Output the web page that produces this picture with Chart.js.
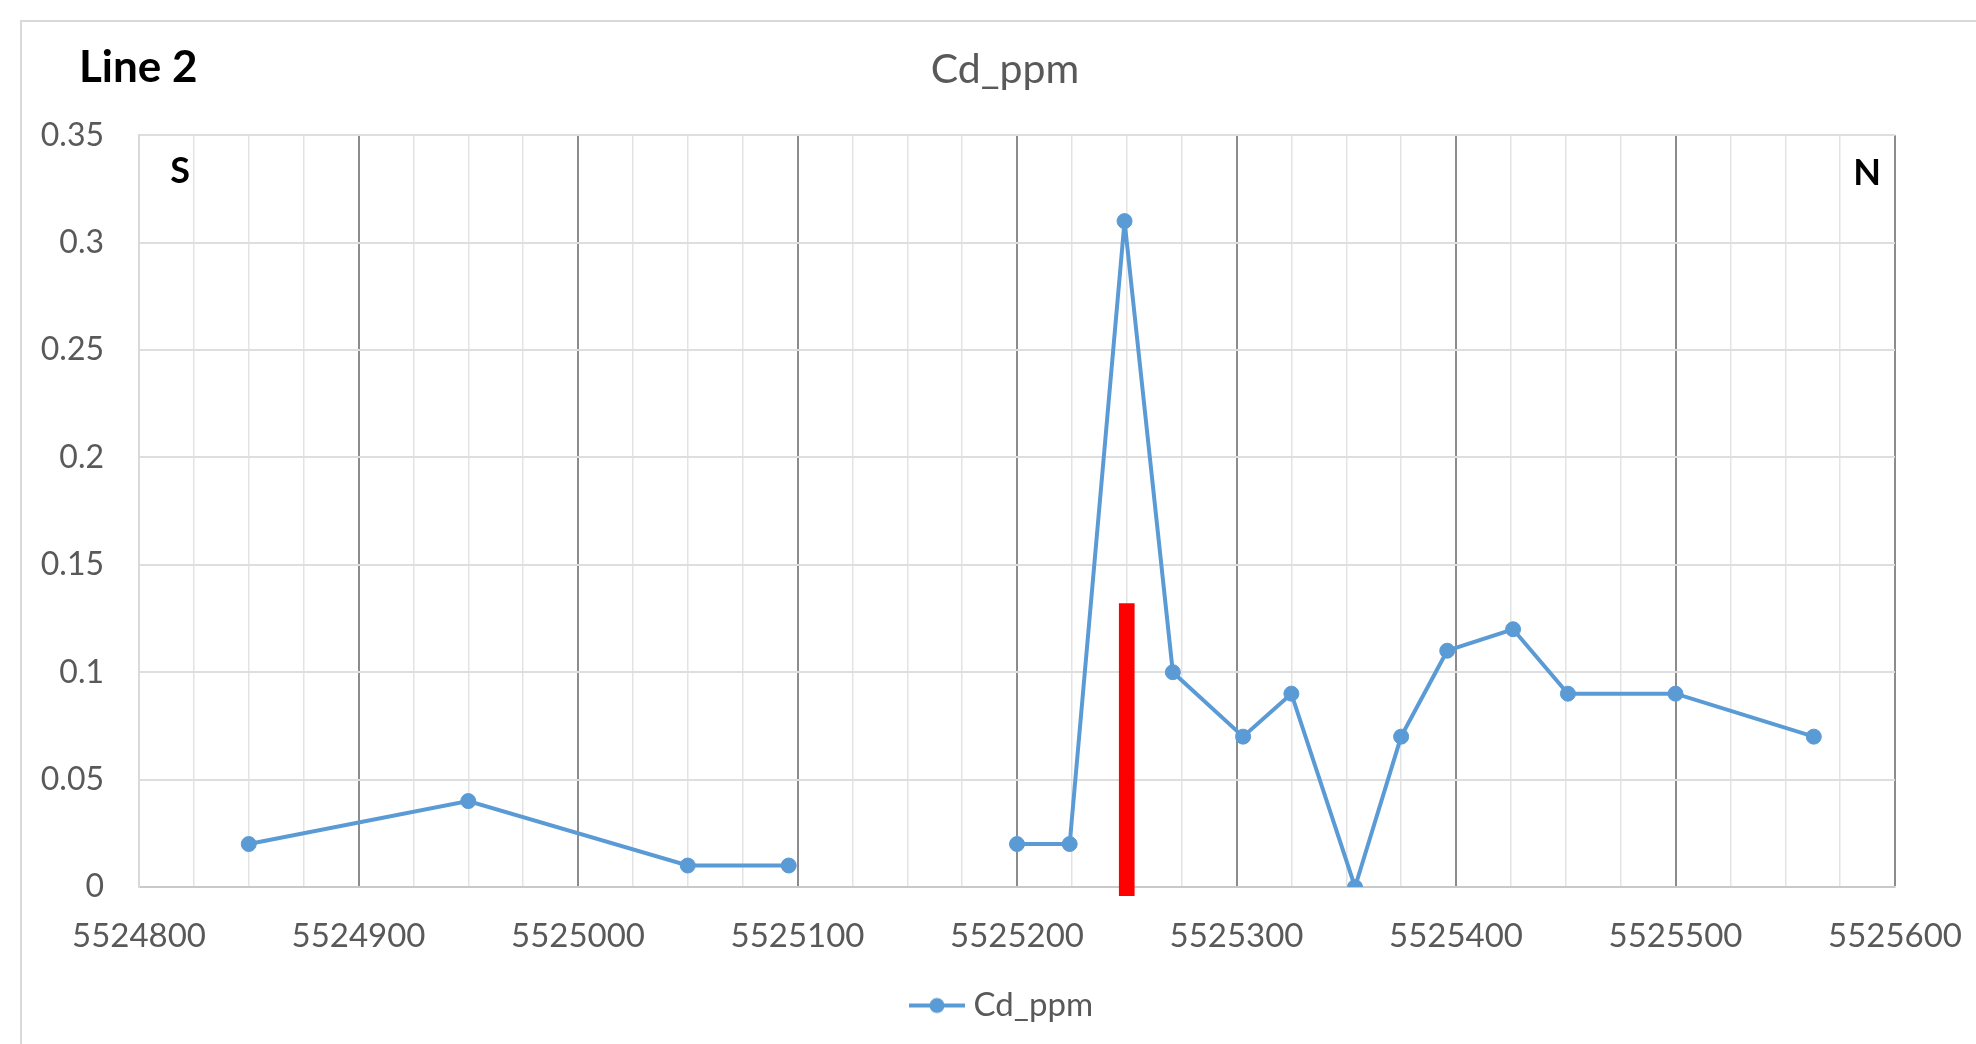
<!DOCTYPE html>
<html>
<head>
<meta charset="utf-8">
<title>Line 2 - Cd_ppm</title>
<script src="https://cdn.jsdelivr.net/npm/chart.js@4.4.1/dist/chart.umd.min.js"></script>
<style>
    html, body { margin: 0; padding: 0; background: #ffffff; }
    canvas { display: block; }
</style>
</head>
<body>
<canvas id="chart" width="1976" height="1044"></canvas>
<script>
// northing along the line (S -> N), null value = gap in the sampling
const northings = [5524850, 5524950, 5525050, 5525096, 5525150, 5525200, 5525224, 5525249, 5525271,
    5525303, 5525325, 5525354, 5525375, 5525396, 5525426, 5525451, 5525500, 5525563];
const cdValues = [0.02, 0.04, 0.01, 0.01, null, 0.02, 0.02, 0.31, 0.10,
    0.07, 0.09, 0, 0.07, 0.11, 0.12, 0.09, 0.09, 0.07];

// red marker bar
const markerNorthing = [5525250];
const markerRange = [[-0.004, 0.132]];

const xMin = 5524800;
const xMax = 5525600;
const yMin = 0;
const yMax = 0.35;

const blue = '#5b9bd5';
const textGrey = '#595959';
const fontFamily = 'Lato, "Open Sans", sans-serif';

function makeLegendIcon() {
    const icon = document.createElement('canvas');
    icon.width = 56;
    icon.height = 18;
    const c = icon.getContext('2d');
    c.strokeStyle = blue;
    c.lineWidth = 4;
    c.beginPath();
    c.moveTo(0, 9);
    c.lineTo(56, 9);
    c.stroke();
    c.fillStyle = blue;
    c.beginPath();
    c.arc(28, 9, 7.5, 0, Math.PI * 2);
    c.fill();
    return icon;
}
const legendIcon = makeLegendIcon();

function isMajor(ctx) {
    return ctx.tick && ctx.tick.value % 100 === 0 && ctx.tick.value !== xMin;
}

const decorations = {
    id: 'decorations',
    beforeDraw(chart) {
        const ctx = chart.ctx;
        ctx.save();
        ctx.fillStyle = '#ffffff';
        ctx.fillRect(0, 0, chart.width, chart.height);
        ctx.strokeStyle = '#d9d9d9';
        ctx.lineWidth = 2;
        ctx.beginPath();
        ctx.moveTo(21, chart.height);
        ctx.lineTo(21, 21);
        ctx.lineTo(chart.width, 21);
        ctx.stroke();
        ctx.restore();
    },
    afterDraw(chart) {
        const ctx = chart.ctx;
        const area = chart.chartArea;
        ctx.save();
        ctx.fillStyle = '#000000';
        ctx.textBaseline = 'alphabetic';
        ctx.textAlign = 'left';
        ctx.font = 'bold 44px ' + fontFamily;
        ctx.fillText('Line 2', 79, 82);
        ctx.font = 'bold 36px ' + fontFamily;
        ctx.textAlign = 'center';
        ctx.fillText('S', area.left + 41, area.top + 48);
        ctx.fillText('N', area.right - 28, area.top + 50);
        ctx.restore();
    }
};

const lineData = northings.map((n, i) => ({x: n, y: cdValues[i]}));
const markerData = markerNorthing.map((n, i) => ({x: n, y: markerRange[i]}));

new Chart(document.getElementById('chart'), {
    type: 'line',
    data: {
        datasets: [
            {
                label: 'Cd_ppm',
                data: lineData,
                borderColor: blue,
                backgroundColor: blue,
                borderWidth: 4,
                pointRadius: 7.5,
                pointBorderWidth: 1,
                pointBorderColor: blue,
                pointBackgroundColor: blue,
                spanGaps: false,
                tension: 0,
                order: 1
            },
            {
                type: 'bar',
                label: 'marker',
                data: markerData,
                backgroundColor: '#ff0000',
                borderWidth: 0,
                barThickness: 15,
                clip: false,
                order: 0
            }
        ]
    },
    options: {
        responsive: false,
        devicePixelRatio: 1,
        animation: false,
        layout: {
            padding: {left: 34, right: 0, top: 0, bottom: 12}
        },
        scales: {
            x: {
                type: 'linear',
                min: xMin,
                max: xMax,
                offset: false,
                grid: {
                    offset: false,
                    drawTicks: true,
                    tickLength: 30,
                    tickColor: 'rgba(0,0,0,0)',
                    color: ctx => isMajor(ctx) ? '#8c8c8c' : '#e3e3e3',
                    lineWidth: ctx => isMajor(ctx) ? 2 : 1.5
                },
                border: {color: '#c9c9c9', width: 2},
                ticks: {
                    stepSize: 25,
                    autoSkip: false,
                    maxRotation: 0,
                    padding: 0,
                    color: textGrey,
                    font: {family: fontFamily, size: 33},
                    callback: value => value % 100 === 0 ? String(value) : ''
                },
                afterFit(scale) {
                    scale.height = 80;
                }
            },
            y: {
                position: 'left',
                min: yMin,
                max: yMax,
                grid: {
                    drawTicks: false,
                    color: '#dedede',
                    lineWidth: 2
                },
                border: {color: '#d9d9d9', width: 2},
                ticks: {
                    stepSize: 0.05,
                    padding: 35,
                    color: textGrey,
                    font: {family: fontFamily, size: 32},
                    callback: value => String(Math.round(value * 100) / 100)
                },
                afterFit(scale) {
                    scale.width = 105;
                }
            },
            y2: {
                position: 'right',
                display: true,
                grid: {display: false, drawTicks: false},
                border: {display: false},
                ticks: {display: false},
                afterFit(scale) {
                    scale.width = 81;
                }
            }
        },
        plugins: {
            title: {
                display: true,
                text: 'Cd_ppm',
                color: textGrey,
                font: {family: fontFamily, size: 41, weight: 'normal'},
                padding: {top: 45, bottom: 41}
            },
            legend: {
                position: 'bottom',
                labels: {
                    usePointStyle: true,
                    pointStyleWidth: 40,
                    padding: 22,
                    color: textGrey,
                    font: {family: fontFamily, size: 33},
                    generateLabels: () => [{
                        text: 'Cd_ppm',
                        pointStyle: legendIcon,
                        fillStyle: blue,
                        strokeStyle: blue,
                        lineWidth: 0,
                        fontColor: textGrey,
                        datasetIndex: 0,
                        hidden: false
                    }]
                }
            },
            tooltip: {enabled: false}
        }
    },
    plugins: [decorations]
});
</script>
</body>
</html>
